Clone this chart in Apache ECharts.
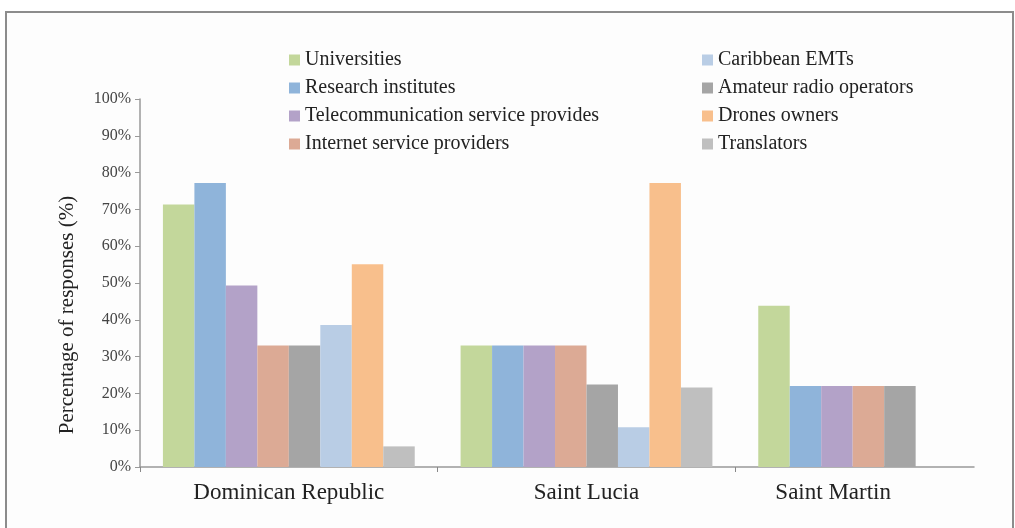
<!DOCTYPE html>
<html>
<head>
<meta charset="utf-8">
<style>
  html, body { margin: 0; padding: 0; background: #fff; }
  #main { width: 1015px; height: 528px; }
</style>
<script src="https://cdn.jsdelivr.net/npm/echarts@6/dist/echarts.min.js"></script>
</head>
<body>
<div id="main"></div>
<script>
// regions on the category axis
var regions = ['Dominican Republic', 'Saint Lucia', 'Saint Martin']
var yTicks = [0, 10, 20, 30, 40, 50, 60, 70, 80, 90, 100]

// percentage of responses per group, in region order
var universities = [71.3, 33.0, 43.8]
var researchInstitutes = [77.2, 33.0, 22.0]
var telecomProviders = [49.3, 33.0, 22.0]
var internetProviders = [33.0, 33.0, 22.0]
var amateurRadio = [33.0, 22.4, 22.0]
var caribbeanEMTs = [38.6, 10.8, null]
var dronesOwners = [55.1, 77.2, null]
var translators = [5.6, 21.6, null]

var groups = [
  { name: 'Universities', data: universities, color: '#c3d79b' },
  { name: 'Research institutes', data: researchInstitutes, color: '#8fb4da' },
  { name: 'Telecommunication service provides', data: telecomProviders, color: '#b3a2c8' },
  { name: 'Internet service providers', data: internetProviders, color: '#dcaa95' },
  { name: 'Amateur radio operators', data: amateurRadio, color: '#a5a5a5' },
  { name: 'Caribbean EMTs', data: caribbeanEMTs, color: '#b9cde5' },
  { name: 'Drones owners', data: dronesOwners, color: '#f8bf8c' },
  { name: 'Translators', data: translators, color: '#bfbfbf' }
]
// legend columns, as laid out in the figure
var legendLeft = ['Universities', 'Research institutes', 'Telecommunication service provides', 'Internet service providers']
var legendRight = ['Caribbean EMTs', 'Amateur radio operators', 'Drones owners', 'Translators']

var serif = '"Liberation Serif", "DejaVu Serif", serif'

var chartDom = document.getElementById('main')
var myChart = echarts.init(chartDom)

var legendBase = {
  orient: 'vertical',
  top: 45,
  itemWidth: 11,
  itemHeight: 11,
  itemGap: 8,
  icon: 'rect',
  textStyle: { fontFamily: serif, fontSize: 20, color: '#222' }
}

var option = {
  animation: false,
  backgroundColor: '#fff',
  graphic: [
    {
      type: 'rect',
      shape: { x: 6, y: 12, width: 1007, height: 530 },
      style: { fill: '#fdfdfd', stroke: '#8c8c8c', lineWidth: 2 },
      z: -10
    }
  ],
  legend: [
    Object.assign({}, legendBase, { left: 284, data: legendLeft }),
    Object.assign({}, legendBase, { left: 697, data: legendRight })
  ],
  grid: [
    { left: 140, top: 99, width: 893, height: 368, outerBoundsMode: 'none' },
    { left: 140, top: 99, width: 834, height: 368, outerBoundsMode: 'none' }
  ],
  xAxis: [
    {
      type: 'category',
      gridIndex: 0,
      data: [
        regions[0],
        regions[1],
        { value: regions[2], textStyle: { padding: [0, 102, 0, 0] } }
      ],
      axisLine: { show: false },
      axisTick: { show: true, length: 5, lineStyle: { color: '#888' } },
      axisLabel: {
        margin: 14,
        fontFamily: serif,
        fontSize: 23,
        color: '#222'
      }
    },
    {
      // plain line under the plot, shorter than the category axis
      type: 'value',
      gridIndex: 1,
      min: 0,
      max: 1,
      axisLine: { show: true, lineStyle: { color: '#999', width: 1.5 } },
      axisTick: { show: false },
      axisLabel: { show: false },
      splitLine: { show: false }
    }
  ],
  yAxis: [
    {
      type: 'value',
      gridIndex: 0,
      min: yTicks[0],
      max: yTicks[yTicks.length - 1],
      interval: 10,
      name: 'Percentage of responses (%)',
      nameLocation: 'middle',
      nameGap: 62,
      nameTextStyle: {
        fontFamily: serif,
        fontSize: 21,
        color: '#222',
        padding: [0, 64, 0, 0]
      },
      axisLine: { show: true, lineStyle: { color: '#999', width: 1.5 } },
      axisTick: { show: true, length: 5, lineStyle: { color: '#999' } },
      axisLabel: {
        margin: 9,
        formatter: '{value}%',
        fontFamily: serif,
        fontSize: 16,
        color: '#444'
      },
      splitLine: { show: false }
    },
    {
      type: 'value',
      gridIndex: 1,
      show: false
    }
  ],
  series: groups.map(function (g) {
    return {
      name: g.name,
      type: 'bar',
      xAxisIndex: 0,
      yAxisIndex: 0,
      data: g.data,
      barGap: '0%',
      barCategoryGap: '15.4%',
      itemStyle: { color: g.color }
    }
  })
}

option && myChart.setOption(option)
</script>
</body>
</html>
